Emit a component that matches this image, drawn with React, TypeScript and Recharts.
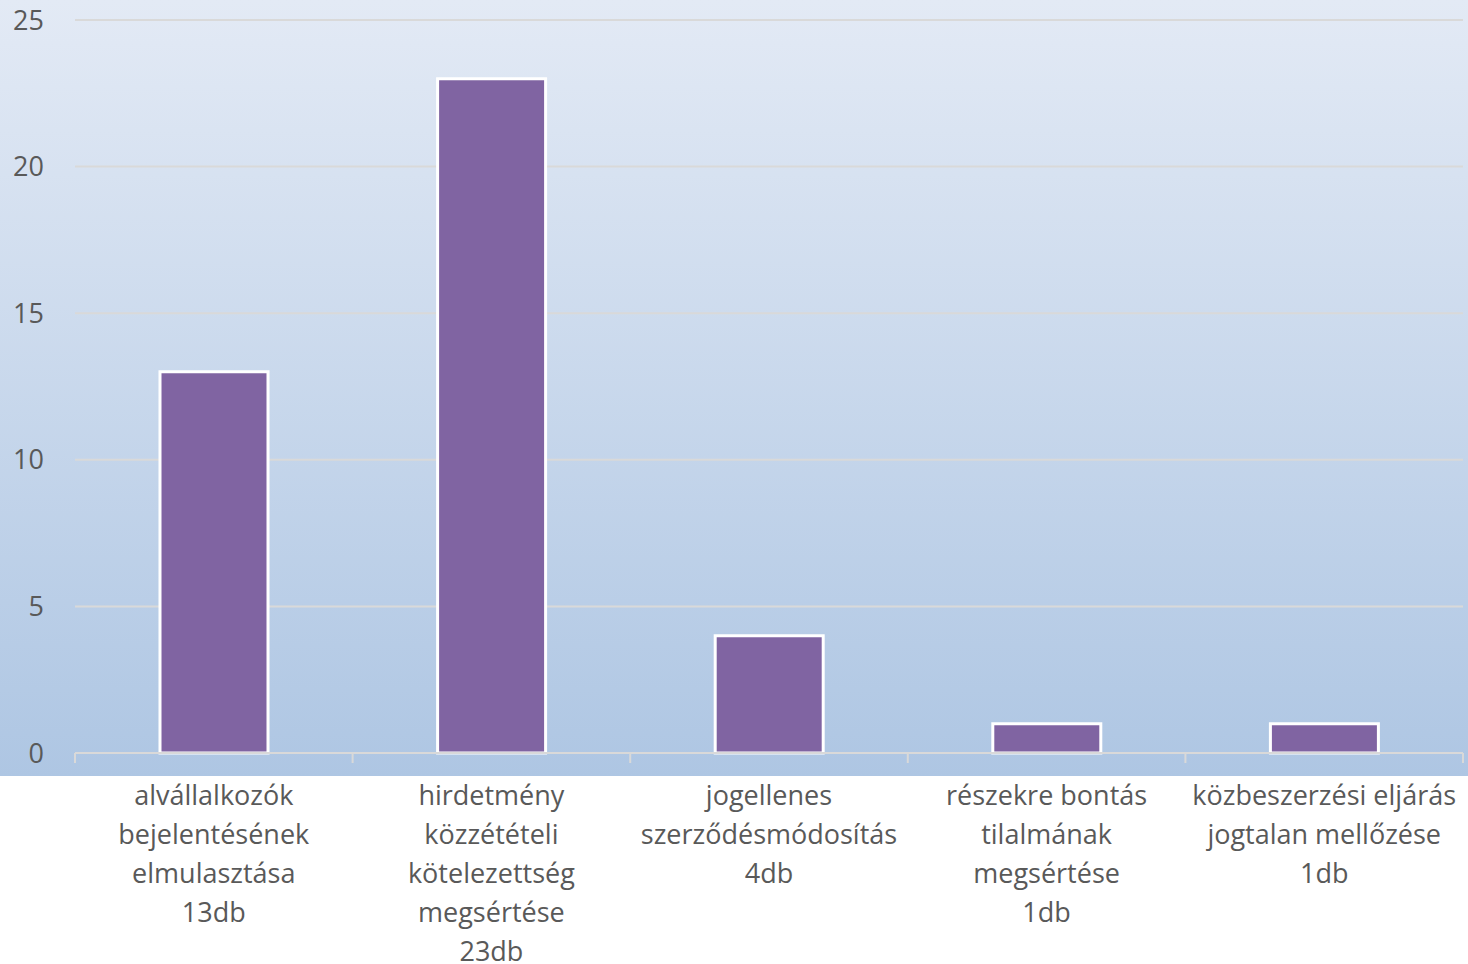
import React from "react";
import { BarChart, Bar, XAxis, YAxis, CartesianGrid } from "recharts";

const categories: string[][] = [
  ["alvállalkozók", "bejelentésének", "elmulasztása", "13db"],
  ["hirdetmény", "közzétételi", "kötelezettség", "megsértése", "23db"],
  ["jogellenes", "szerződésmódosítás", "4db"],
  ["részekre bontás", "tilalmának", "megsértése", "1db"],
  ["közbeszerzési eljárás", "jogtalan mellőzése", "1db"],
];
const values = [13, 23, 4, 1, 1];
const yTicks = [0, 5, 10, 15, 20, 25];

const data = categories.map((lines, i) => ({ name: lines.join("\n"), value: values[i] }));

const W = 1468;
const H = 964;
const PLOT_LEFT = 75;
const PLOT_RIGHT = 5;
const BAND = (W - PLOT_LEFT - PLOT_RIGHT) / categories.length;
const FONT = "'Open Sans', Lato, sans-serif";
const TEXT = "#595959";
const GRID = "#d9d9d9";

function CategoryTick(props: any) {
  const { x, y, payload, index } = props;
  const lines = String(payload.value).split("\n");
  return (
    <g>
      <line x1={x - BAND / 2} x2={x - BAND / 2} y1={y - 8} y2={y + 2} stroke={GRID} strokeWidth={2} />
      {index === categories.length - 1 && (
        <line x1={x + BAND / 2} x2={x + BAND / 2} y1={y - 8} y2={y + 2} stroke={GRID} strokeWidth={2} />
      )}
      <text x={x} y={y} textAnchor="middle" fill={TEXT} fontSize={27} fontFamily={FONT}>
        {lines.map((l, i) => (
          <tspan key={i} x={x} dy={i === 0 ? 44 : 39}>
            {l}
          </tspan>
        ))}
      </text>
    </g>
  );
}

export default function App() {
  return (
    <div style={{ position: "absolute", left: 0, top: 0, width: W, height: H, background: "#fff" }}>
      <div
        style={{
          position: "absolute",
          left: 0,
          top: 0,
          width: W,
          height: 776,
          background: "linear-gradient(to bottom, #e3eaf5 0%, #aec6e3 100%)",
        }}
      />
      <div style={{ position: "absolute", left: 0, top: 0 }}>
        <BarChart width={W} height={H} data={data} margin={{ top: 20, right: PLOT_RIGHT, left: 0, bottom: 0 }}>
          <CartesianGrid vertical={false} stroke={GRID} strokeWidth={2} />
          <XAxis
            dataKey="name"
            height={211}
            interval={0}
            tickLine={false}
            axisLine={{ stroke: GRID, strokeWidth: 2 }}
            tick={<CategoryTick />}
          />
          <YAxis
            width={PLOT_LEFT}
            domain={[0, 25]}
            ticks={yTicks}
            axisLine={false}
            tickLine={false}
            tickMargin={25}
            tick={{ fontSize: 27, fill: TEXT, fontFamily: FONT }}
          />
          <Bar dataKey="value" fill="#8064a2" stroke="#ffffff" strokeWidth={3} barSize={108} isAnimationActive={false} />
        </BarChart>
      </div>
    </div>
  );
}
